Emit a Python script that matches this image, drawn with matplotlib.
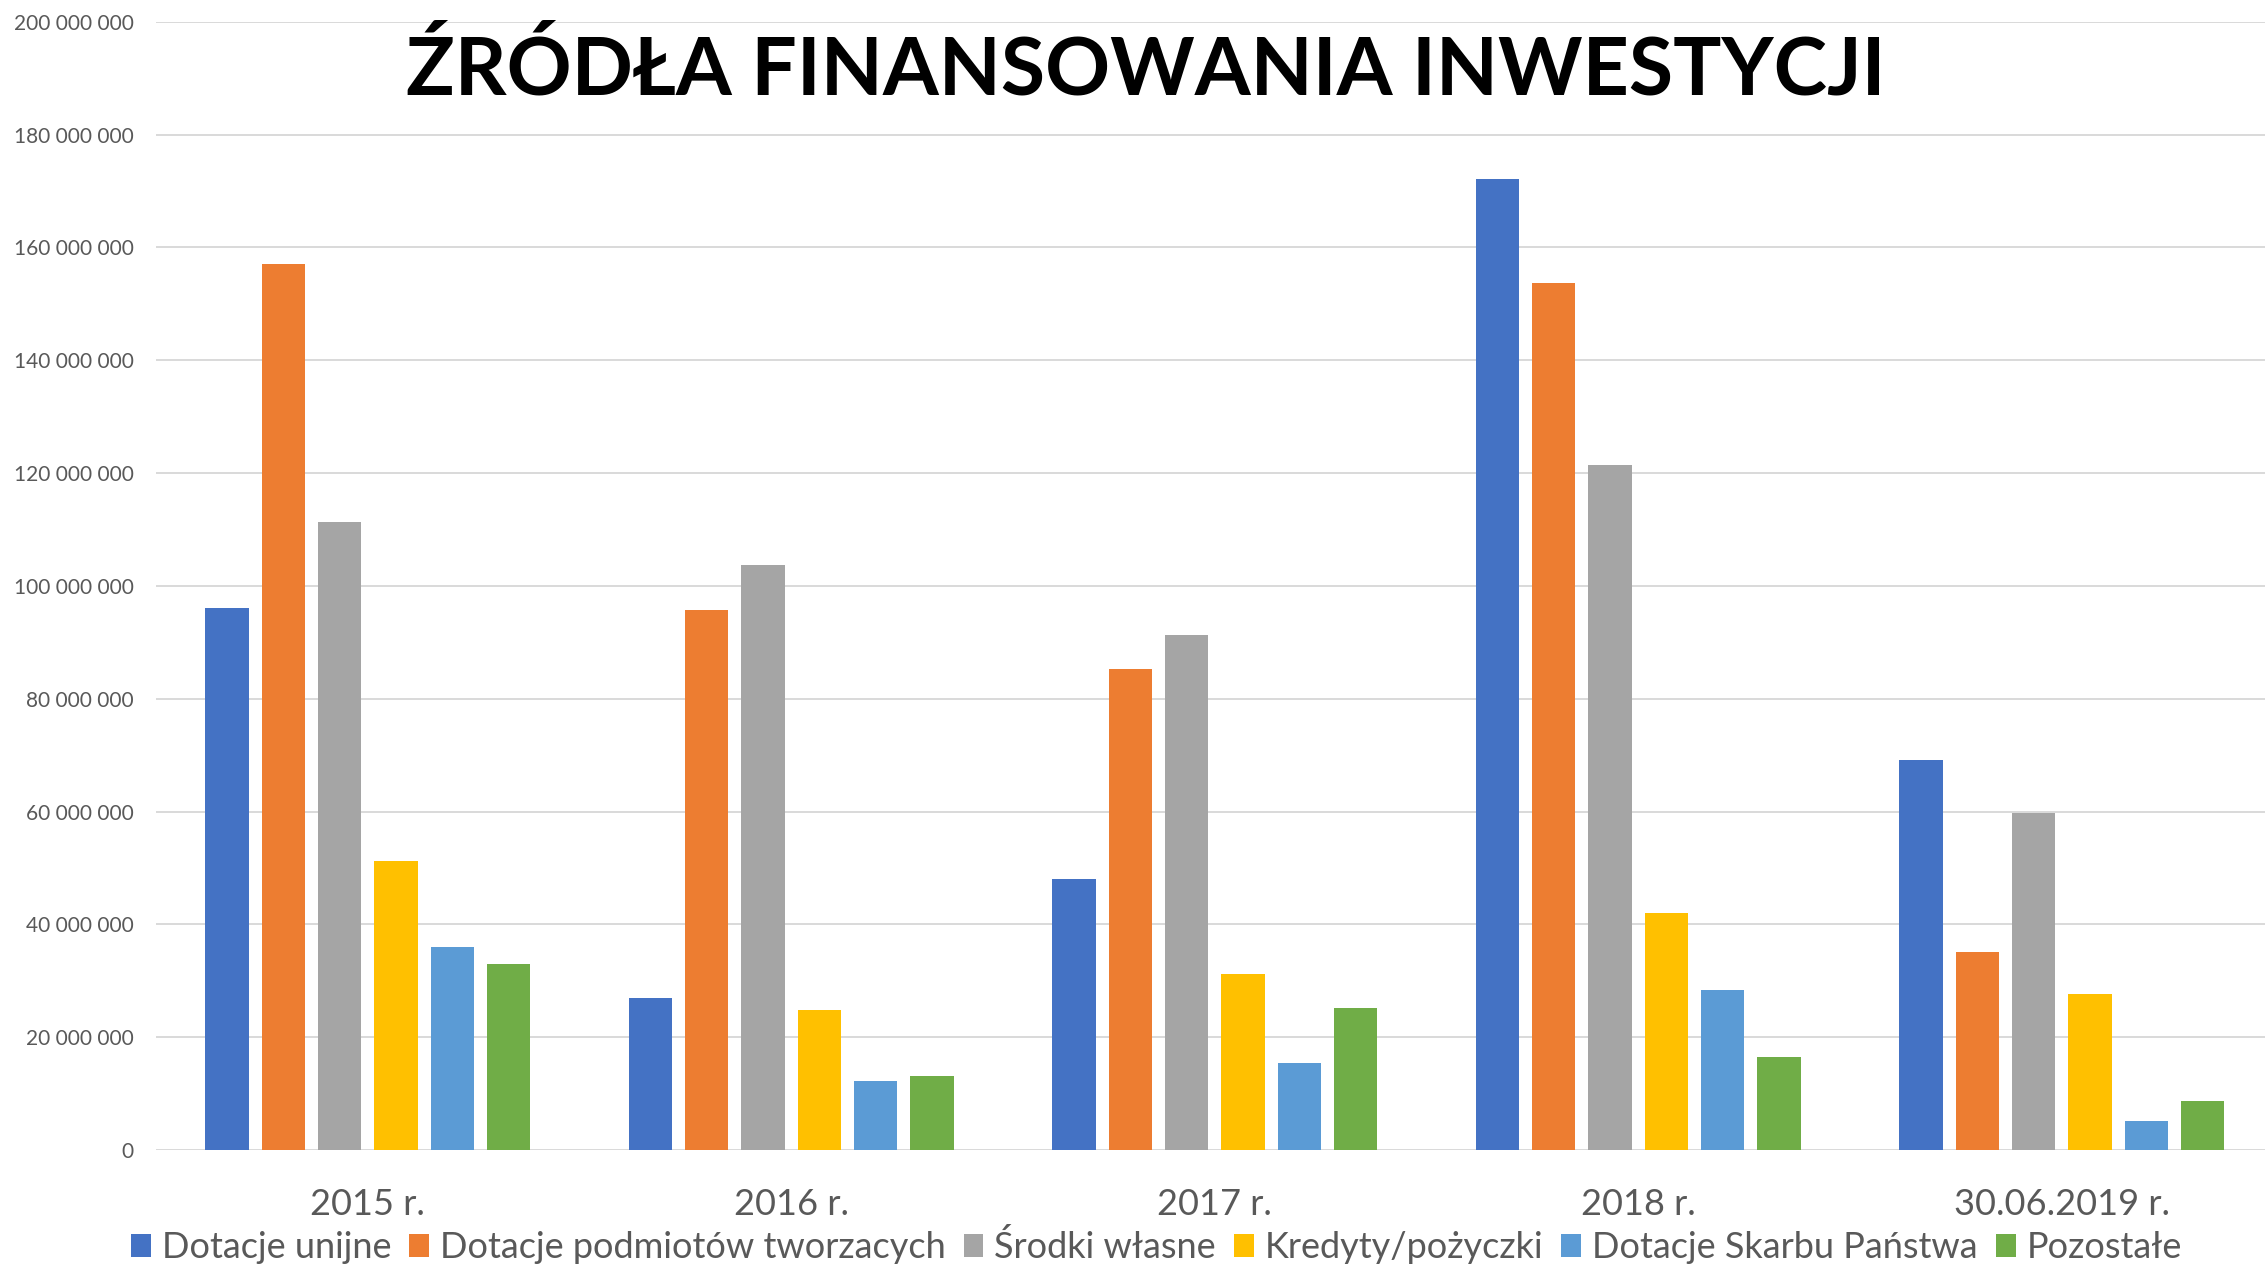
import matplotlib
matplotlib.use("Agg")
import matplotlib.pyplot as plt
from matplotlib.ticker import FuncFormatter
from matplotlib.patches import Patch
import numpy as np

plt.rcParams['font.family'] = ['Lato', 'DejaVu Sans']

categories = ["2015 r.", "2016 r.", "2017 r.", "2018 r.", "30.06.2019 r."]
series_names = ["Dotacje unijne", "Dotacje podmiotów tworzacych", "Środki własne",
                "Kredyty/pożyczki", "Dotacje Skarbu Państwa", "Pozostałe"]
dotacje_unijne = [96.0e6, 26.9e6, 48.1e6, 172.1e6, 69.1e6]
dotacje_podmiotow = [157.0e6, 95.8e6, 85.3e6, 153.6e6, 35.1e6]
srodki_wlasne = [111.4e6, 103.7e6, 91.2e6, 121.4e6, 59.7e6]
kredyty = [51.2e6, 24.8e6, 31.2e6, 42.0e6, 27.7e6]
dotacje_skarbu = [35.9e6, 12.3e6, 15.4e6, 28.4e6, 5.1e6]
pozostale = [33.0e6, 13.1e6, 25.1e6, 16.4e6, 8.7e6]
series_values = [dotacje_unijne, dotacje_podmiotow, srodki_wlasne, kredyty, dotacje_skarbu, pozostale]
colors = ["#4472C4", "#ED7D31", "#A5A5A5", "#FFC000", "#5B9BD5", "#70AD47"]
yticks = np.arange(0, 200e6 + 1, 20e6)

W, H = 2265, 1264
fig = plt.figure(figsize=(W / 100, H / 100), dpi=100)
ax = fig.add_axes([156 / W, 114 / H, 1 - 156 / W, (1150 - 21.7) / H])

x = np.arange(len(categories))
pitch = 0.133
width = 0.1023
for i, (name, vals, c) in enumerate(zip(series_names, series_values, colors)):
    ax.bar(x + (i - 2.5) * pitch, vals, width=width, color=c, label=name, zorder=3)

ax.set_ylim(0, 200e6)
ax.set_xlim(-0.5, 4.48)
ax.set_yticks(yticks)
ax.yaxis.set_major_formatter(FuncFormatter(lambda v, p: f"{int(v):,}".replace(",", " ")))
ax.set_xticks(x)
ax.set_xticklabels(categories)
ax.tick_params(axis='y', length=0, pad=16, labelsize=15, labelcolor="#595959")
ax.tick_params(axis='x', length=0, pad=27.5, labelsize=26, labelcolor="#595959")
ax.grid(axis='y', color="#d9d9d9", linewidth=1.4, zorder=0)
for s in ax.spines.values():
    s.set_visible(False)

fig.text(0.506, 0.944, "ŹRÓDŁA FINANSOWANIA INWESTYCJI", ha='center', va='center',
         fontsize=58, fontweight='bold', color='black')

handles = [Patch(facecolor=c, edgecolor='none') for c in colors]
fig.legend(handles, series_names, loc='center', bbox_to_anchor=(0.5105, 17 / H), ncol=6,
           frameon=False, fontsize=26, labelcolor="#595959", handlelength=0.55,
           handleheight=0.6, handletextpad=0.3, columnspacing=0.5, borderpad=0)

fig.savefig("out.png", dpi=100, facecolor='white')
